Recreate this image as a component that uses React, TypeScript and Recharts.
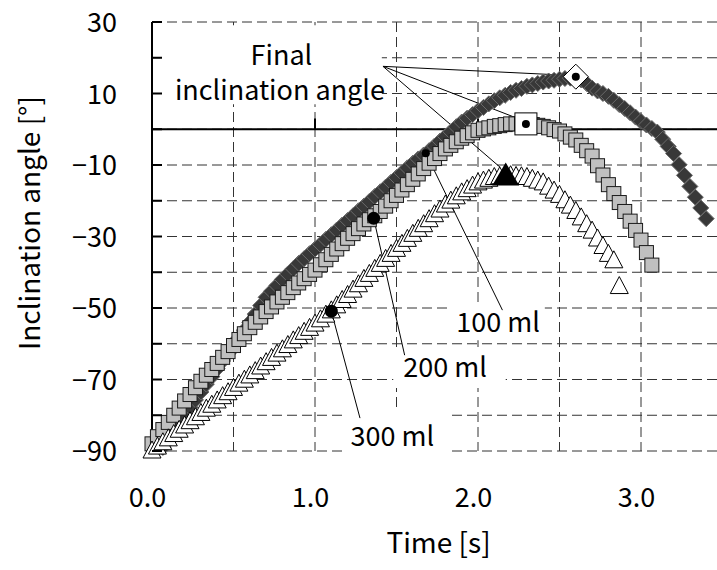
import {
  ScatterChart,
  Scatter,
  XAxis,
  YAxis,
  CartesianGrid,
  ReferenceLine,
  ReferenceArea,
  ReferenceDot,
  Label,
} from "recharts";

const FPS = 30;
const FONT = '"Noto Sans CJK JP", "Noto Sans", sans-serif';

// 100 ml, first frame = 2
const start100 = 2;
const angle100 = [
  -89, -87, -84.7, -82.3, -80, -77.8, -75.7, -73.5, -71.3, -69.2, -67, -64.8, -62.7, -60.5, -58.3, -56.2, -54,
  -51.7, -49.3, -47, -45.3, -43.7, -42, -40.5, -39, -37.5, -36.2, -34.8, -33.5, -32.2, -30.8, -29.5, -28.2,
  -26.8, -25.5, -24.2, -22.8, -21.5, -20.2, -18.8, -17.5, -16.2, -14.8, -13.5, -12.2, -10.8, -9.5, -8.3, -7.2,
  -6, -4.7, -3.3, -2, -0.7, 0.7, 2, 3.1, 4.1, 5.2, 6.1, 7.1, 8, 8.8, 9.5, 10.3, 10.9, 11.4, 12, 12.4, 12.8, 13.2,
  13.5, 13.7, 14, 14.2, 14.3, 14.5, 13.8, 12.8, 11.5, 10.7, 10, 9.2, 8.1, 6.9, 5.8, 4.6, 3.4, 2.2, 1.2, 0.2,
  -0.8, -2.8, -4.8, -6.8, -9.9, -12.9, -16, -19, -22, -25,
];

// 200 ml, first frame = 0
const start200 = 0;
const angle200 = [
  -88, -86, -84, -82, -80, -78, -76, -74.2, -72.3, -70.5, -68.8, -67.2, -65.5, -63.8, -62.2, -60.5, -58.8,
  -57.2, -55.5, -54, -52.5, -51, -49.7, -48.3, -47, -45.7, -44.3, -43, -41.8, -40.6, -39.4, -37.9, -36.5, -35,
  -33.5, -32, -30.5, -29.2, -27.8, -26.5, -25.3, -24.2, -23, -21.5, -20, -18.5, -17, -15.5, -14, -12.5, -11,
  -9.5, -8.2, -6.8, -5.5, -4.5, -3.5, -2.5, -1.8, -1, -0.3, 0.1, 0.4, 0.8, 1, 1.3, 1.5, 1.5, 1.6, 1.6, 1.3, 1.1,
  0.8, 0.4, -0.1, -0.5, -1.3, -2.2, -3, -4.5, -6, -7.5, -10.2, -12.8, -15.5, -18, -20.5, -23, -25.7, -28.3, -31,
  -34.5, -38,
];

// 300 ml, first frame = 0
const start300 = 0;
const angle300 = [
  -90, -88.9, -87.7, -86.6, -85.4, -84.2, -83, -81.8, -80.7, -79.5, -78.3, -77.2, -76, -74.8, -73.7, -72.5,
  -71.3, -70.2, -69, -67.8, -66.5, -65.3, -64.1, -62.9, -61.7, -60.5, -59.2, -58, -56.8, -55.7, -54.5, -53.3,
  -52, -50.8, -49.4, -47.9, -46.5, -45, -43.5, -42, -40.6, -39.2, -37.8, -36.4, -35, -33.6, -32.2, -30.8, -29.4,
  -28, -26.7, -25.3, -23.9, -22.6, -21.2, -20.1, -18.9, -17.8, -16.9, -15.9, -15, -14.5, -14, -13.5, -13.3,
  -13.1, -13, -13.2, -13.3, -13.5, -14, -14.5, -15, -16.2, -17.3, -18.5, -20, -21.5, -23, -24.8, -26.7, -28.5,
  -30.7, -32.8, -35, -36.8, -44,
];

// final inclination angle of each volume
const final100 = [{ t: 2.6, a: 14.7 }];
const final200 = [{ t: 2.294, a: 1.5 }];
const final300 = [{ t: 2.17, a: -13.2 }];

// points the volume labels point at
const picked = [
  { t: 1.68, a: -6.7, r: 4 },
  { t: 1.36, a: -24.9, r: 6.5 },
  { t: 1.1, a: -50.9, r: 6.5 },
];

const timeTicks = [0, 0.5, 1, 1.5, 2, 2.5, 3, 3.5];
const timeLabels = [0, 1, 2, 3];
const angleTicks = [-90, -80, -70, -60, -50, -40, -30, -20, -10, 0, 10, 20, 30];
const angleLabels = [-90, -70, -50, -30, -10, 10, 30];

const toPoints = (start: number, values: number[]) =>
  values.map((a, i) => ({ t: (start + i) / FPS, a }));

const data100 = toPoints(start100, angle100);
const data200 = toPoints(start200, angle200);
const data300 = toPoints(start300, angle300);

// annotation layout (data coordinates)
const finalFrom = { t: 1.417, a: 17.6 };
const finalTo = [
  { t: 2.546, a: 15.1 },
  { t: 2.239, a: 3.1 },
  { t: 2.135, a: -10.6 },
];
const volumeNotes = [
  { text: "100 ml", t: 2.123, a: -54, box: [1.81, 2.41, -48.4, -59], to: { t: 2.15, a: -50.6 } },
  { text: "200 ml", t: 1.798, a: -66.5, box: [1.48, 2.17, -61, -72.4], to: { t: 1.55, a: -63.2 } },
  { text: "300 ml", t: 1.475, a: -85.8, box: [1.18, 1.83, -79.1, -91.4], to: { t: 1.276, a: -80.8 } },
];

const Diamond = ({ cx, cy }: any) => (
  <polygon
    points={`${cx},${cy - 8} ${cx + 8},${cy} ${cx},${cy + 8} ${cx - 8},${cy}`}
    fill="#383838"
    stroke="#6a6a6a"
    strokeWidth={1}
  />
);

const Square = ({ cx, cy }: any) => (
  <rect x={cx - 7} y={cy - 7} width={14} height={14} fill="#c0c0c0" stroke="#1a1a1a" strokeWidth={1} />
);

const Triangle = ({ cx, cy }: any) => (
  <polygon
    points={`${cx},${cy - 10} ${cx + 9},${cy + 7} ${cx - 9},${cy + 7}`}
    fill="#fff"
    stroke="#000"
    strokeWidth={1}
  />
);

const OpenDiamond = ({ cx, cy }: any) => (
  <g>
    <polygon
      points={`${cx},${cy - 12.5} ${cx + 12.5},${cy} ${cx},${cy + 12.5} ${cx - 12.5},${cy}`}
      fill="#fff"
      stroke="#000"
      strokeWidth={1}
    />
    <circle cx={cx} cy={cy} r={4} fill="#000" />
  </g>
);

const OpenSquare = ({ cx, cy }: any) => (
  <g>
    <rect x={cx - 11} y={cy - 11} width={22} height={22} fill="#fff" stroke="#000" strokeWidth={1} />
    <circle cx={cx} cy={cy} r={4} fill="#000" />
  </g>
);

const BlackTriangle = ({ cx, cy }: any) => (
  <polygon points={`${cx},${cy - 14} ${cx + 13.5},${cy + 9} ${cx - 13.5},${cy + 9}`} fill="#000" />
);

const fmtAngle = (v: number) => (v < 0 ? `\u2212${Math.abs(v)}` : `${v}`);

const TimeTick = ({ x, payload }: any) => {
  if (!timeLabels.includes(payload.value)) return <g />;
  return (
    <text x={x - 4.5} y={507} textAnchor="middle" fontSize={27} fontFamily={FONT} fill="#000">
      {payload.value.toFixed(1)}
    </text>
  );
};

const AngleTick = ({ y, payload }: any) => (
  <g>
    <line x1={152} x2={162} y1={y} y2={y} stroke="#000" strokeWidth={2} />
    {angleLabels.includes(payload.value) ? (
      <text x={117} y={y + 10} textAnchor="end" fontSize={27} fontFamily={FONT} fill="#000">
        {fmtAngle(payload.value)}
      </text>
    ) : null}
  </g>
);

const noteLabel = (value: string) => ({
  value,
  position: "center" as const,
  fontSize: 27,
  fontFamily: FONT,
  fill: "#000",
});

export default function App() {
  return (
    <div
      style={{
        position: "absolute",
        left: 0,
        top: 0,
        width: 717,
        height: 570,
        overflow: "hidden",
        background: "#fff",
      }}
    >
      <ScatterChart width={740} height={570} margin={{ top: 22, right: 17.5, bottom: 59, left: 0 }}>
        <CartesianGrid stroke="#333" strokeDasharray="10 5" />
        <XAxis
          type="number"
          dataKey="t"
          domain={[0, 3.5]}
          ticks={timeTicks}
          interval={0}
          axisLine={false}
          tickLine={false}
          tick={TimeTick}
          height={60}
        >
          <Label
            content={() => (
              <text x={438.5} y={553} textAnchor="middle" fontSize={28} fontFamily={FONT} fill="#000">
                Time [s]
              </text>
            )}
          />
        </XAxis>
        <YAxis
          type="number"
          dataKey="a"
          domain={[-90, 30]}
          ticks={angleTicks}
          interval={0}
          width={152}
          axisLine={{ stroke: "#000", strokeWidth: 2 }}
          tickLine={false}
          tick={AngleTick}
        >
          <Label
            content={() => (
              <text
                transform="translate(40,223) rotate(-90)"
                textAnchor="middle"
                fontSize={28}
                fontFamily={FONT}
                fill="#000"
              >
                Inclination angle [°]
              </text>
            )}
          />
        </YAxis>

        <ReferenceArea x1={0.05} x2={1.41} y1={7} y2={29.1} fill="#fff" fillOpacity={1} stroke="none" ifOverflow="visible" />
        {volumeNotes.map((n) => (
          <ReferenceArea
            key={n.text}
            x1={n.box[0]}
            x2={n.box[1]}
            y1={n.box[2]}
            y2={n.box[3]}
            fill="#fff"
            fillOpacity={1}
            stroke="none"
            ifOverflow="visible"
          />
        ))}

        <ReferenceLine y={0} stroke="#000" strokeWidth={2} />
        {timeLabels
          .filter((v) => v > 0)
          .map((v) => (
            <ReferenceLine
              key={v}
              segment={[
                { x: v, y: 0 },
                { x: v, y: 3 },
              ]}
              stroke="#000"
              strokeWidth={2}
            />
          ))}

        <Scatter data={data100} shape={Diamond} isAnimationActive={false} />
        <Scatter data={data200} shape={Square} isAnimationActive={false} />
        <Scatter data={data300} shape={Triangle} isAnimationActive={false} />

        {finalTo.map((p, i) => (
          <ReferenceLine
            key={`f${i}`}
            segment={[
              { x: finalFrom.t, y: finalFrom.a },
              { x: p.t, y: p.a },
            ]}
            stroke="#000"
            strokeWidth={1}
          />
        ))}
        {volumeNotes.map((n, i) => (
          <ReferenceLine
            key={`v${i}`}
            segment={[
              { x: picked[i].t, y: picked[i].a },
              { x: n.to.t, y: n.to.a },
            ]}
            stroke="#000"
            strokeWidth={1}
          />
        ))}

        <Scatter data={final100} shape={OpenDiamond} isAnimationActive={false} />
        <Scatter data={final200} shape={OpenSquare} isAnimationActive={false} />
        <Scatter data={final300} shape={BlackTriangle} isAnimationActive={false} />

        {picked.map((p, i) => (
          <ReferenceDot key={`d${i}`} x={p.t} y={p.a} r={p.r} fill="#000" stroke="none" ifOverflow="visible" />
        ))}

        <ReferenceDot x={0.794} y={20.7} r={0} fill="none" stroke="none" label={noteLabel("Final")} />
        <ReferenceDot x={0.785} y={10.9} r={0} fill="none" stroke="none" label={noteLabel("inclination angle")} />
        {volumeNotes.map((n) => (
          <ReferenceDot
            key={`l${n.text}`}
            x={n.t}
            y={n.a}
            r={0}
            fill="none"
            stroke="none"
            ifOverflow="visible"
            label={noteLabel(n.text)}
          />
        ))}
      </ScatterChart>
    </div>
  );
}
